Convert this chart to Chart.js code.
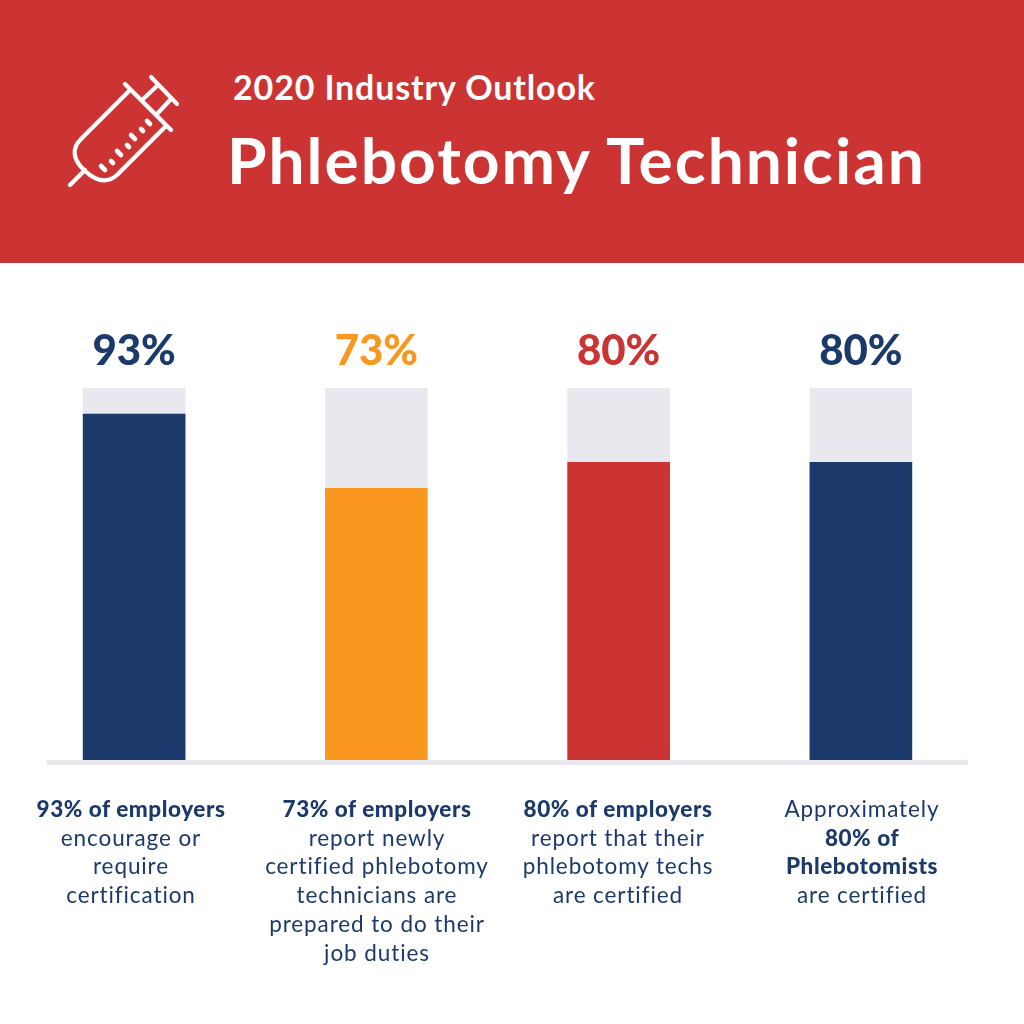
<!DOCTYPE html>
<html><head><meta charset="utf-8">
<script src="https://cdn.jsdelivr.net/npm/chart.js@4"></script>
<style>
html,body{margin:0;padding:0;background:#fff;width:1024px;height:1024px;overflow:hidden;font-family:Lato,sans-serif}
#hdr{position:absolute;left:0;top:0;width:1024px;height:263px;background:#cc3333}
#t1{position:absolute;left:233px;top:66px;color:#fff;font-size:34px;font-weight:700;line-height:42px;white-space:nowrap;letter-spacing:.85px}
#t2{position:absolute;left:227px;top:124px;color:#fff;font-size:64px;font-weight:700;line-height:72px;white-space:nowrap;letter-spacing:2px}
#wrap{position:absolute;left:0;top:263px;width:1024px;height:540px}
.cap{position:absolute;top:795px;width:240px;text-align:center;color:#1b3a6b;font-size:22.5px;line-height:28.7px;letter-spacing:.9px}
.cap b{font-weight:900;letter-spacing:.55px}
svg{position:absolute;left:0;top:0}
</style></head><body>
<div id="hdr"></div>
<svg width="200" height="200" viewBox="0 0 200 200" fill="none" stroke="#fff" stroke-width="4.2" stroke-linecap="round" stroke-linejoin="round">
<path d="M70 185 L85 170"/>
<path d="M130 90 L81 139 C71 149 73 160 85 171 C97 182 108 183 117 175 L166 126"/>
<path d="M125 84 L171 130"/>
<path d="M142 100 L157 86"/><path d="M157 114 L170 100"/>
<path d="M151 77 L177 104"/>
<path d="M101 166 l4 4 M111 161 l2 2 M117 151 l4 4 M127 145 l2 2 M131 135 l4 4 M141 129 l2 2 M147 121 l3 3" stroke-width="4.6"/>
</svg>
<div id="t1">2020 Industry Outlook</div>
<div id="t2">Phlebotomy Technician</div>
<div id="wrap"><canvas id="c" width="1024" height="540"></canvas></div>
<div class="cap" style="left:11px"><b>93% of employers</b><br>encourage or<br>require<br>certification</div>
<div class="cap" style="left:257px"><b>73% of employers</b><br>report newly<br>certified phlebotomy<br>technicians are<br>prepared to do their<br>job duties</div>
<div class="cap" style="left:498px"><b>80% of employers</b><br>report that their<br>phlebotomy techs<br>are certified</div>
<div class="cap" style="left:742px">Approximately<br><b>80% of<br>Phlebotomists</b><br>are certified</div>
<script>
const categories = ["Encourage or require certification","Newly certified techs prepared","Employers' techs certified","Phlebotomists certified"];
const values = [93,73,80,80];
const remainder = [7,27,20,20];
const barColors = ["#1b3a6b","#f9971f","#cc3333","#1b3a6b"];
const trackColor = "#e8e8ee";
const valueLabels = ["93%","73%","80%","80%"];
const labelColors = ["#1b3a6b","#f9971f","#cc3333","#1b3a6b"];

const decor = {
  id:"decor",
  afterDatasetsDraw(chart){
    const {ctx,scales:{x,y}} = chart;
    ctx.save();
    ctx.fillStyle = trackColor;
    ctx.fillRect(47,y.getPixelForValue(0),921,5);
    ctx.textAlign="center";ctx.textBaseline="alphabetic";
    ctx.font="900 42px Lato, sans-serif";
    valueLabels.forEach((t,i)=>{
      ctx.fillStyle=labelColors[i];
      ctx.fillText(t,x.getPixelForValue(i),y.getPixelForValue(100)-23);
    });
    ctx.restore();
  }
};
new Chart(document.getElementById("c"),{
  type:"bar",
  data:{labels:categories,datasets:[
    {data:values,backgroundColor:barColors,borderWidth:0,barThickness:102,stack:"s"},
    {data:remainder,backgroundColor:trackColor,borderWidth:0,barThickness:102,stack:"s"}
  ]},
  options:{
    responsive:false,animation:false,
    layout:{padding:{left:13,right:42,top:125,bottom:43}},
    plugins:{legend:{display:false},tooltip:{enabled:false}},
    scales:{
      x:{stacked:true,display:false,offset:true},
      y:{stacked:true,display:false,min:0,max:100}
    }
  },
  plugins:[decor]
});
</script>
</body></html>
